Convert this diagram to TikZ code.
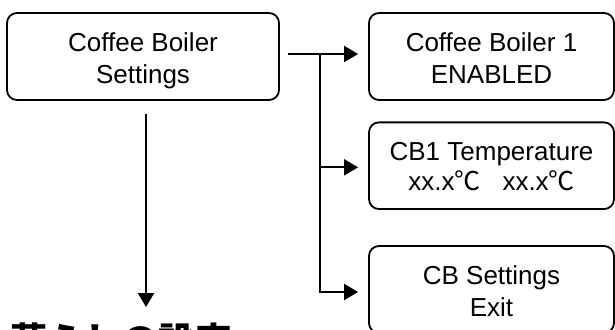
\documentclass[tikz,border=0pt]{standalone}
\usepackage{fontspec}
\setmainfont{Liberation Sans}
\newfontfamily\cjk{Noto Sans CJK JP}
\usetikzlibrary{arrows.meta}
\begin{document}
\begin{tikzpicture}[x=1pt,y=-1pt,
  box/.style={draw, line width=1.8pt, rounded corners=10pt, minimum width=245pt, minimum height=87pt, inner sep=0pt},
  txt/.style={anchor=base, inner sep=0pt, font=\fontsize{26}{31}\selectfont},
  arr/.style={line width=2pt, -{Triangle[length=14pt,width=16pt]}},
  ln/.style={line width=2pt}]
\useasboundingbox (0,0) rectangle (615,329);
\clip (0,0) rectangle (615,329);
% boxes
\node[box, minimum width=272pt] (b1) at (143,56.5) {};
\node[box] (b2) at (491.5,56.5) {};
\node[box, minimum height=86.7pt] (b3) at (491.5,165.7) {};
\node[box] (b4) at (491.5,289.5) {};
% texts
\node[txt] (b1a) at ([yshift=4.8pt]b1.center) {Coffee Boiler};
\node[txt] (b1b) at ([yshift=-26.8pt]b1.center) {Settings};
\node[txt] (b2a) at ([yshift=4.8pt]b2.center) {Coffee Boiler 1};
\node[txt] (b2b) at ([yshift=-26.8pt]b2.center) {ENABLED};
\node[txt] (b3a) at ([yshift=5.5pt]b3.center) {CB1 Temperature};
\node[txt] (b3b) at ([yshift=-25pt]b3.center) {xx.x{\cjk ℃}\hspace{22pt}xx.x{\cjk ℃}};
\node[txt] (b4a) at ([yshift=4.8pt]b4.center) {CB Settings};
\node[txt] (b4b) at ([yshift=-26.8pt]b4.center) {Exit};
\node[anchor=base west, inner sep=0pt, font=\cjk\bfseries\fontsize{37}{40}\selectfont] (jp) at (10,354) {蒸らしの設定};
% connectors
\coordinate (j) at ([xshift=40pt,yshift=2.5pt]b1.east);
\coordinate (a2) at ([xshift=-10pt,yshift=2.5pt]b2.west);
\coordinate (a3) at ([xshift=-10pt,yshift=-1.6pt]b3.west);
\coordinate (a4) at ([xshift=-10pt,yshift=-2.5pt]b4.west);
\draw[arr] ([xshift=8pt,yshift=2.5pt]b1.east) -- (a2);
\draw[ln] (j) |- ([xshift=-14pt]a4);
\draw[arr] (a3 -| j) -- (a3);
\draw[arr] (a4 -| j) -- (a4);
\coordinate (dn) at (146,307);
\draw[arr] ([xshift=3pt,yshift=-13pt]b1.south) -- (dn);
\end{tikzpicture}
\end{document}
